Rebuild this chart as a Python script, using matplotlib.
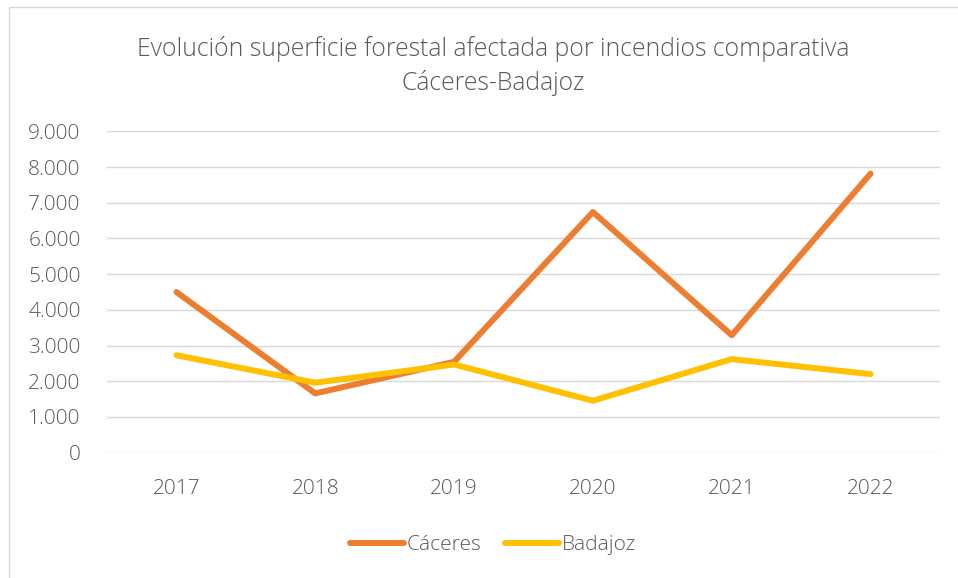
import matplotlib.pyplot as plt
from matplotlib.ticker import FuncFormatter
from matplotlib.patches import Rectangle

years = ["2017", "2018", "2019", "2020", "2021", "2022"]
caceres = [4500, 1660, 2545, 6740, 3290, 7815]
badajoz = [2730, 1960, 2470, 1455, 2620, 2200]

plt.rcParams['font.family'] = ['Open Sans', 'DejaVu Sans']
gray = "#595959"

fig = plt.figure(figsize=(9.58, 5.78), dpi=100)
ax = fig.add_axes([0.1117, 0.2168, 0.8695, 0.556])

# chart border
fig.patches.append(Rectangle((9 / 958, -0.05), 1.0, 1 - 7 / 578 + 0.05,
                             transform=fig.transFigure, fill=False,
                             edgecolor="#D9D9D9", linewidth=1.0))

x = range(len(years))
ax.plot(x, caceres, color="#ED7D31", linewidth=4.3, solid_capstyle="round",
        solid_joinstyle="round", label="Cáceres")
ax.plot(x, badajoz, color="#FFC000", linewidth=4.3, solid_capstyle="round",
        solid_joinstyle="round", label="Badajoz")

ax.set_xlim(-0.5, len(years) - 0.5)
ax.set_ylim(0, 9000)
ax.set_yticks(range(0, 9001, 1000))
ax.yaxis.set_major_formatter(FuncFormatter(lambda v, p: f"{int(v):,}".replace(",", ".")))
ax.set_xticks(list(x))
ax.set_xticklabels(years)

ax.grid(axis="y", color="#D9D9D9", linewidth=1.0)
ax.set_axisbelow(True)
for s in ax.spines.values():
    s.set_visible(False)
ax.tick_params(length=0, colors=gray, labelsize=15)
ax.tick_params(axis="y", pad=19)
ax.tick_params(axis="x", pad=19)
for lab in ax.get_xticklabels() + ax.get_yticklabels():
    lab.set_fontweight("light")

fig.text(0.5146, 1 - 66 / 578, "Evolución superficie forestal afectada por incendios comparativa\nCáceres-Badajoz",
         ha="center", va="center", fontsize=17.8, color=gray, fontweight="light",
         linespacing=1.45)

leg = fig.legend(loc="center", bbox_to_anchor=(0.5146, 1 - 545 / 578), ncol=2,
                 frameon=False, fontsize=15, handlelength=2.6, handletextpad=0.15,
                 columnspacing=1.1)
for t in leg.get_texts():
    t.set_color(gray)
    t.set_fontweight("light")

fig.savefig("out.png", dpi=100)
